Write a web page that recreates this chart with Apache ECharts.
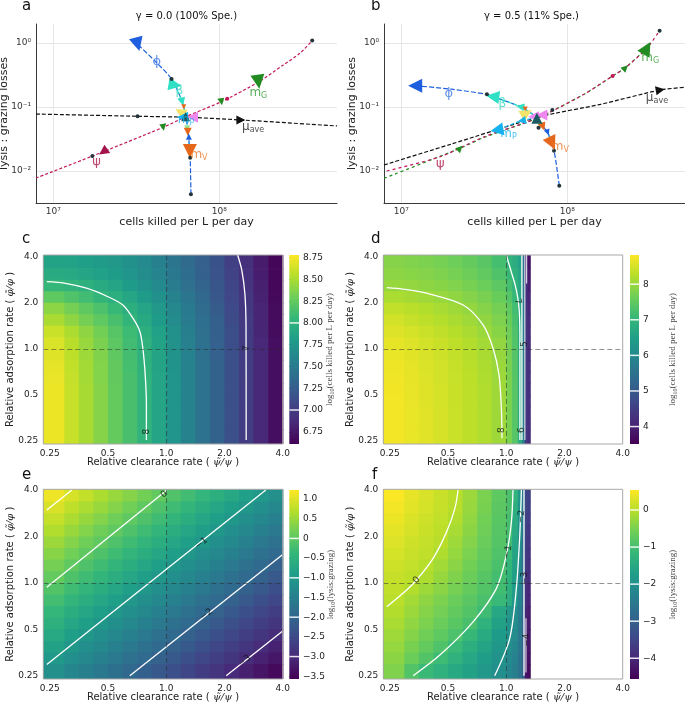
<!DOCTYPE html>
<html>
<head>
<meta charset="utf-8">
<title>lysis vs grazing</title>
<script src="https://cdn.jsdelivr.net/npm/echarts@6.0.0/dist/echarts.min.js"></script>
<style>
html,body{margin:0;padding:0;background:#fff;}
#chart{width:685px;height:704px;}
</style>
</head>
<body>
<div id="chart"></div>
<script>
// ===================== DATA =====================
// ---- Panel a (gamma = 0.0): x = cells killed per L per day, y = lysis:grazing
const psiLineA   = [[7.87e6,0.00776],[1.72e7,0.0171],[4.6e7,0.0482],[6.31e7,0.0708],[1.03e8,0.121],[1.72e8,0.245],[2.43e8,0.453],[3.06e8,0.69],[3.63e8,1.09]];
const muLineA    = [[7.87e6,0.0776],[3.22e7,0.0716],[6.31e7,0.0692],[1.35e8,0.0627],[5.12e8,0.0505]];
const phiLineA   = [[6.75e7,0.00433],[6.68e7,0.0161],[6.53e7,0.0355],[6.31e7,0.0708],[5.98e7,0.121],[5.16e7,0.274],[4.17e7,0.50],[3.22e7,0.955]];
const betaLineA  = [[6.31e7,0.0708],[5.98e7,0.121],[5.41e7,0.221],[5.16e7,0.274]];
const lowerLineA = [[6.31e7,0.0708],[6.46e7,0.0412],[6.65e7,0.0205],[6.68e7,0.0161]];
const phiHeadA   = [[3.22e7,0.955]];
const betaHeadA  = [[5.41e7,0.221]];
const betaTickA  = [[5.98e7,0.121]];
const orangeTopA = [[6.11e7,0.101]];
const yellowA    = [[5.81e7,0.0845]];
const mpHeadA    = [[6.01e7,0.069]];
const tealA      = [[6.27e7,0.0705]];
const violetA    = [[6.9e7,0.069]];
const lgreenA    = [[6.41e7,0.0465]];
const mvTickA    = [[6.46e7,0.0412]];
const phiTickA   = [[6.56e7,0.0344]];
const mvHeadA    = [[6.65e7,0.0205]];
const psiHeadA   = [[2.0e7,0.02]];
const mgTickA    = [[4.6e7,0.0482],[1.03e8,0.121]];
const mgHeadA    = [[1.72e8,0.248]];
const muHeadA    = [[1.35e8,0.0627]];
const psiDotsA   = [[1.117e8,0.1346]];
const darkDotsA  = [[1.72e7,0.0171],[5.16e7,0.274],[6.68e7,0.0161],[6.75e7,0.00433],[3.22e7,0.0716],[3.63e8,1.09]];
const labelsA    = [['psi',1.82e7,0.0141],['mG',1.72e8,0.167],['mu',1.6e8,0.0492],['phi',4.2e7,0.51],['beta',5.75e7,0.18],['mV',7.55e7,0.0178],['mP',6.3e7,0.0626]];

// ---- Panel b (gamma = 0.5)
const psiLineB   = [[7.87e6,0.00977],[1.72e7,0.01675],[3.16e7,0.0343],[6.56e7,0.0665],[1.26e8,0.158],[1.875e8,0.305],[2.24e8,0.411],[3.02e8,0.832],[3.6e8,1.556]];
const mgLineB    = [[7.87e6,0.00767],[2.26e7,0.0226],[3.16e7,0.0335],[6.56e7,0.0665],[1.26e8,0.158],[1.875e8,0.305],[2.24e8,0.411],[3.02e8,0.832]];
const muLineB    = [[7.87e6,0.0124],[2.0e7,0.0263],[6.87e7,0.0706],[1.585e8,0.11],[3.63e8,0.1845],[5.12e8,0.203]];
const phiLineB   = [[8.95e7,0.00589],[8.32e7,0.0208],[7.62e7,0.0402],[7.14e7,0.0493],[6.61e7,0.0676],[5.21e7,0.101],[3.56e7,0.145],[3.28e7,0.158],[2.0e7,0.19],[1.213e7,0.215]];
const betaLineB  = [[6.61e7,0.0676],[5.21e7,0.101],[3.56e7,0.145],[3.28e7,0.158]];
const mpLineB    = [[6.61e7,0.0676],[5.33e7,0.0611],[3.77e7,0.0437]];
const lowerLineB = [[6.61e7,0.0676],[7.14e7,0.0493],[7.62e7,0.0402],[8.32e7,0.0208]];
const phiHeadB   = [[1.213e7,0.215]];
const betaHeadB  = [[3.56e7,0.145]];
const betaTickB  = [[5.21e7,0.101]];
const orangeTopB = [[5.58e7,0.093]];
const yellowB    = [[5.69e7,0.0798]];
const violetB    = [[6.27e7,0.0706],[7.03e7,0.075]];
const tealB      = [[6.56e7,0.0665]];
const lgreenB    = [[6.87e7,0.0523]];
const mpTickB    = [[5.33e7,0.0611]];
const mpHeadB    = [[3.77e7,0.0437]];
const mvTickB    = [[7.14e7,0.0493]];
const phiTickB   = [[7.62e7,0.0402]];
const mvHeadB    = [[8.09e7,0.0271]];
const mgTickB    = [[2.26e7,0.0226],[2.24e8,0.411]];
const mgHeadB    = [[3.02e8,0.832]];
const muHeadB    = [[3.63e8,0.1845]];
const psiDotsB   = [[1.875e8,0.305]];
const darkDotsB  = [[3.28e7,0.158],[6.71e7,0.0475],[8.32e7,0.0208],[8.95e7,0.00589],[8.13e7,0.0897],[3.6e8,1.556]];
const labelsB    = [['phi',1.93e7,0.164],['beta',4.06e7,0.111],['mP',4.43e7,0.0374],['mV',9.08e7,0.024],['mG',3.16e8,0.577],['mu',3.47e8,0.137],['psi',1.72e7,0.0132]];

// ---- Heatmap cell edges (relative clearance rate / relative adsorption rate)
const xEdgesCE = [0.2,0.2973,0.3536,0.4204,0.5,0.5946,0.7071,0.8409,1.0,1.1892,1.4142,1.6818,2.0,2.3784,2.8284,3.3636,4.0];
const xEdgesDF = [0.2,0.2973,0.3536,0.4204,0.5,0.5946,0.7071,0.8409,1.0,1.0718,1.1487,1.2058,1.2483,1.2924,1.3286];
const yEdges   = [4.3,3.3636,2.8284,2.3784,2.0,1.6818,1.4142,1.1892,1.0,0.8409,0.7071,0.5946,0.5,0.4204,0.3536,0.2973,0.2]; // top -> bottom

// ---- Panel c: log10(cells killed per L per day), rows top -> bottom
const valsC = [
 [7.86,7.85,7.83,7.79,7.76,7.70,7.64,7.56,7.46,7.36,7.26,7.16,7.03,6.91,6.78,6.64],
 [7.93,7.91,7.88,7.84,7.80,7.74,7.67,7.59,7.48,7.38,7.27,7.17,7.04,6.92,6.79,6.65],
 [8.05,8.02,7.98,7.93,7.88,7.80,7.72,7.64,7.52,7.41,7.30,7.19,7.06,6.93,6.80,6.65],
 [8.23,8.17,8.11,8.04,7.97,7.89,7.80,7.70,7.58,7.45,7.33,7.21,7.08,6.95,6.81,6.66],
 [8.40,8.32,8.24,8.16,8.07,7.97,7.88,7.76,7.63,7.50,7.37,7.24,7.10,6.97,6.83,6.67],
 [8.50,8.41,8.32,8.23,8.14,8.03,7.92,7.80,7.66,7.52,7.39,7.26,7.11,6.98,6.83,6.68],
 [8.61,8.51,8.41,8.31,8.20,8.09,7.97,7.84,7.70,7.55,7.41,7.27,7.13,6.99,6.84,6.68],
 [8.66,8.55,8.44,8.34,8.22,8.11,7.99,7.86,7.71,7.56,7.42,7.28,7.13,6.99,6.85,6.69],
 [8.68,8.57,8.46,8.36,8.24,8.12,8.00,7.87,7.72,7.57,7.42,7.28,7.14,7.00,6.85,6.69],
 [8.70,8.58,8.48,8.37,8.25,8.13,8.01,7.87,7.72,7.58,7.43,7.29,7.14,7.00,6.85,6.69],
 [8.71,8.59,8.48,8.37,8.25,8.14,8.02,7.88,7.73,7.58,7.43,7.29,7.14,7.00,6.85,6.69],
 [8.72,8.60,8.49,8.38,8.26,8.14,8.02,7.88,7.73,7.58,7.43,7.29,7.14,7.00,6.85,6.69],
 [8.72,8.60,8.49,8.38,8.26,8.14,8.02,7.88,7.73,7.58,7.43,7.29,7.14,7.00,6.85,6.69],
 [8.72,8.60,8.49,8.38,8.26,8.14,8.02,7.88,7.73,7.58,7.43,7.29,7.14,7.00,6.85,6.69],
 [8.72,8.60,8.49,8.38,8.26,8.14,8.02,7.88,7.73,7.58,7.43,7.29,7.14,7.00,6.85,6.69],
 [8.72,8.60,8.49,8.38,8.26,8.14,8.02,7.88,7.73,7.58,7.43,7.29,7.14,7.00,6.85,6.69]
];
// ---- Panel d
const valsD = [
 [7.84,7.80,7.76,7.70,7.63,7.54,7.42,7.22,6.95,6.80,6.55,5.50,4.00,3.75],
 [7.90,7.86,7.82,7.77,7.70,7.62,7.51,7.33,7.08,6.90,6.62,5.55,4.10,3.85],
 [7.98,7.95,7.91,7.86,7.80,7.72,7.61,7.45,7.22,6.98,6.68,5.60,4.20,3.95],
 [8.15,8.10,8.05,7.99,7.92,7.84,7.73,7.58,7.38,7.08,6.72,5.65,4.25,4.05],
 [8.33,8.27,8.20,8.12,8.04,7.95,7.84,7.69,7.50,7.20,6.75,5.70,4.30,4.10],
 [8.46,8.38,8.30,8.22,8.13,8.04,7.93,7.78,7.58,7.28,6.78,5.75,4.32,4.15],
 [8.56,8.48,8.40,8.32,8.23,8.13,8.01,7.86,7.64,7.33,6.79,5.78,4.34,4.17],
 [8.62,8.55,8.47,8.39,8.30,8.21,8.09,7.94,7.68,7.36,6.80,5.79,4.35,4.18],
 [8.66,8.59,8.51,8.43,8.34,8.25,8.13,7.98,7.71,7.38,6.80,5.80,4.35,4.19],
 [8.69,8.62,8.54,8.46,8.37,8.27,8.16,8.01,7.73,7.39,6.80,5.80,4.35,4.20],
 [8.71,8.64,8.56,8.47,8.38,8.29,8.18,8.03,7.74,7.40,6.80,5.80,4.35,4.20],
 [8.72,8.65,8.57,8.48,8.39,8.30,8.19,8.04,7.75,7.40,6.80,5.80,4.35,4.20],
 [8.73,8.65,8.57,8.48,8.39,8.30,8.19,8.04,7.75,7.40,6.80,5.80,4.35,4.20],
 [8.73,8.66,8.58,8.49,8.40,8.30,8.19,8.04,7.75,7.40,6.80,5.80,4.35,4.20],
 [8.74,8.66,8.58,8.49,8.40,8.30,8.19,8.04,7.75,7.40,6.80,5.80,4.35,4.20],
 [8.74,8.66,8.58,8.49,8.40,8.30,8.19,8.04,7.75,7.40,6.80,5.80,4.35,4.20]
];
// ---- Panel e: log10(lysis:grazing)
const valsE = [
 [1.12,0.94,0.79,0.64,0.49,0.34,0.19,0.04,-0.11,-0.26,-0.42,-0.57,-0.72,-0.87,-1.02,-1.17],
 [0.96,0.78,0.63,0.48,0.33,0.18,0.02,-0.13,-0.28,-0.43,-0.58,-0.73,-0.88,-1.03,-1.18,-1.33],
 [0.81,0.63,0.47,0.32,0.17,0.02,-0.13,-0.28,-0.43,-0.58,-0.73,-0.88,-1.03,-1.18,-1.33,-1.48],
 [0.66,0.48,0.32,0.17,0.02,-0.13,-0.28,-0.43,-0.58,-0.73,-0.88,-1.03,-1.18,-1.33,-1.48,-1.63],
 [0.51,0.33,0.17,0.02,-0.13,-0.28,-0.43,-0.58,-0.73,-0.88,-1.03,-1.18,-1.33,-1.48,-1.63,-1.78],
 [0.36,0.18,0.02,-0.13,-0.28,-0.43,-0.58,-0.73,-0.88,-1.03,-1.18,-1.33,-1.48,-1.63,-1.78,-1.93],
 [0.21,0.02,-0.13,-0.28,-0.43,-0.58,-0.73,-0.88,-1.03,-1.18,-1.33,-1.48,-1.63,-1.78,-1.93,-2.08],
 [0.06,-0.13,-0.28,-0.43,-0.58,-0.73,-0.88,-1.03,-1.18,-1.33,-1.48,-1.63,-1.78,-1.93,-2.08,-2.23],
 [-0.09,-0.28,-0.43,-0.58,-0.73,-0.88,-1.03,-1.18,-1.33,-1.48,-1.63,-1.78,-1.93,-2.08,-2.23,-2.38],
 [-0.24,-0.43,-0.58,-0.73,-0.88,-1.03,-1.18,-1.33,-1.48,-1.63,-1.78,-1.93,-2.08,-2.23,-2.38,-2.53],
 [-0.39,-0.58,-0.73,-0.88,-1.03,-1.18,-1.33,-1.48,-1.63,-1.78,-1.93,-2.08,-2.23,-2.38,-2.53,-2.68],
 [-0.54,-0.73,-0.88,-1.03,-1.18,-1.33,-1.48,-1.63,-1.78,-1.93,-2.08,-2.23,-2.38,-2.53,-2.68,-2.83],
 [-0.69,-0.88,-1.03,-1.18,-1.33,-1.48,-1.63,-1.78,-1.93,-2.08,-2.23,-2.38,-2.53,-2.68,-2.83,-2.98],
 [-0.84,-1.03,-1.18,-1.33,-1.48,-1.63,-1.78,-1.93,-2.08,-2.23,-2.38,-2.53,-2.68,-2.83,-2.98,-3.13],
 [-1.00,-1.18,-1.33,-1.48,-1.63,-1.78,-1.93,-2.08,-2.23,-2.38,-2.53,-2.68,-2.83,-2.98,-3.13,-3.28],
 [-1.17,-1.35,-1.50,-1.65,-1.80,-1.95,-2.10,-2.25,-2.40,-2.55,-2.70,-2.85,-3.00,-3.15,-3.30,-3.45]
];
// ---- Panel f
const valsF = [
 [0.52,0.37,0.25,0.13,0.01,-0.23,-0.49,-0.75,-0.93,-1.25,-1.83,-2.60,-3.45,-3.55],
 [0.46,0.33,0.22,0.11,0.00,-0.26,-0.51,-0.77,-0.95,-1.33,-1.90,-2.60,-3.50,-3.60],
 [0.40,0.27,0.17,0.07,-0.07,-0.31,-0.56,-0.80,-0.97,-1.40,-1.95,-2.65,-3.55,-3.65],
 [0.34,0.23,0.13,0.04,-0.13,-0.36,-0.59,-0.82,-0.98,-1.45,-2.00,-2.65,-3.60,-3.70],
 [0.28,0.17,0.09,0.00,-0.21,-0.42,-0.64,-0.85,-1.05,-1.55,-2.05,-2.70,-3.65,-3.75],
 [0.22,0.13,0.05,-0.08,-0.28,-0.49,-0.69,-0.90,-1.12,-1.60,-2.10,-2.70,-3.70,-3.80],
 [0.16,0.08,-0.01,-0.18,-0.37,-0.56,-0.75,-0.95,-1.20,-1.65,-2.15,-2.75,-3.75,-3.85],
 [0.11,0.03,-0.08,-0.27,-0.45,-0.63,-0.82,-1.00,-1.28,-1.70,-2.20,-2.75,-3.80,-3.90],
 [0.06,-0.05,-0.21,-0.37,-0.53,-0.69,-0.86,-1.03,-1.35,-1.75,-2.25,-2.80,-3.90,-4.00],
 [0.01,-0.17,-0.33,-0.48,-0.64,-0.79,-0.95,-1.12,-1.40,-1.80,-2.30,-2.80,-3.95,-4.05],
 [-0.05,-0.24,-0.40,-0.55,-0.71,-0.86,-1.05,-1.52,-1.85,-2.05,-2.40,-2.85,-4.05,-4.15],
 [-0.12,-0.32,-0.48,-0.64,-0.80,-0.96,-1.28,-1.65,-1.92,-2.06,-2.45,-2.90,-4.10,-4.20],
 [-0.20,-0.41,-0.58,-0.75,-0.92,-1.15,-1.46,-1.76,-1.98,-2.10,-2.50,-2.90,-4.15,-4.25],
 [-0.28,-0.51,-0.70,-0.89,-1.10,-1.36,-1.60,-1.86,-2.05,-2.20,-2.55,-2.95,-4.20,-4.30],
 [-0.36,-0.63,-0.86,-1.08,-1.30,-1.52,-1.74,-1.95,-2.15,-2.30,-2.60,-3.00,-4.25,-4.35],
 [-0.45,-0.86,-1.11,-1.29,-1.48,-1.66,-1.85,-2.03,-2.20,-2.35,-2.65,-3.00,-4.30,-4.40]
];

// ---- Contour lines (x = relative clearance, y = relative adsorption)
const contourC8 = [[0.2415,2.75],[0.297,2.69],[0.387,2.49],[0.5,2.19],[0.599,1.93],[0.683,1.54],[0.732,1.29],[0.758,1.0],[0.779,0.674],[0.790,0.435],[0.790,0.254]];
const contourC7 = [[2.34,4.1],[2.46,3.25],[2.55,2.30],[2.585,1.41],[2.59,0.254]];
const contourD8 = [[0.2415,2.51],[0.297,2.45],[0.388,2.31],[0.599,1.935],[0.759,1.434],[0.855,1.009],[0.918,0.676],[0.944,0.409],[0.951,0.261]];
const contourD7 = [[1.002,4.1],[1.057,3.25],[1.11,2.64],[1.149,2.14],[1.169,1.74],[1.177,1.23],[1.177,0.254]];
const contourD6 = [[1.2058,4.1],[1.2058,0.254]];
const contourD5 = [[1.2483,4.1],[1.2483,0.254]];
const contourD4 = [[1.2746,4.1],[1.2746,2.676]];
const contourE1  = [[0.2415,2.969],[0.3253,4.0]];
const contourE0  = [[0.2415,0.935],[1.0083,4.0]];
const contourEm1 = [[0.2415,0.2957],[3.272,4.0]];
const contourEm2 = [[0.6484,0.25],[3.972,1.516]];
const contourEm3 = [[2.042,0.25],[3.972,0.483]];
const contourF0  = [[0.2415,0.70],[0.306,0.898],[0.344,1.043],[0.419,1.442],[0.492,2.14],[0.543,3.04],[0.564,4.0]];
const contourFm1 = [[0.3305,0.25],[0.454,0.340],[0.674,0.559],[0.890,0.921],[1.002,1.516],[1.064,2.49],[1.084,4.0]];
const contourFm2 = [[0.872,0.25],[1.043,0.437],[1.128,0.920],[1.173,1.945],[1.198,4.0]];
const contourFm3 = [[1.2356,0.25],[1.2356,4.0]];
const contourFm4 = [[1.265,0.2624],[1.265,0.5905]];
const labelsC = [['8',0.79,0.288],['7',2.59,1.01]];
const labelsD = [['8',0.951,0.295],['7',1.149,2.035],['6',1.206,0.295],['5',1.248,1.072]];
const labelsE = [['0',0.974,3.75],['−1',1.518,1.804],['−2',1.611,0.6245],['−3',2.539,0.311]];
const labelsF = [['0',0.344,1.043],['−1',1.021,1.591],['−2',1.197,2.685],['−3',1.245,1.07],['−4',1.27,0.425]];

// ---- Colorbars: ranges, ticks, contour levels
const cbRangeC = [6.61,8.78], cbTicksC = [6.75,7.0,7.25,7.5,7.75,8.0,8.25,8.5,8.75], levelsC = [7,8];
const cbRangeD = [3.51,8.82], cbTicksD = [4,5,6,7,8], levelsD = [4,5,6,7,8];
const cbRangeE = [-3.57,1.23], cbTicksE = [-3.5,-3,-2.5,-2,-1.5,-1,-0.5,0,0.5,1.0], levelsE = [-3,-2,-1,0];
const cbRangeF = [-4.56,0.54], cbTicksF = [-4,-3,-2,-1,0], levelsF = [-4,-3,-2,-1,0];

// ===================== STYLE / BUILD =====================
const FONT = 'DejaVu Sans';
const viridis = ['#440154','#482878','#3e4989','#31688e','#26828e','#1f9e89','#35b779','#6ece58','#b5de2b','#fde725'];
const COL = {psi:'#c2185b', psiHead:'#a3134c', mg:'#228b22', mu:'#111111', phi:'#1f5fdf', beta:'#2fe0c4', mv:'#e5671b',
  mp:'#15b2ee', yellow:'#f2e46b', violet:'#ee88ee', teal:'#1b5c62', lgreen:'#8fe88f', dot:'#22343a', lower:'#2fa7e6'};

const SUP = {'0':'⁰','1':'¹','2':'²','3':'³','4':'⁴','5':'⁵','6':'⁶','7':'⁷','8':'⁸','9':'⁹','-':'⁻'};
function powLabel(v){ const l=Math.log10(v), r=Math.round(l); if(Math.abs(l-r)>1e-3) return ''; return '10'+String(r).split('').map(c=>SUP[c]).join(''); }
function ratioLabel(v){ const l=Math.log2(v), r=Math.round(l); if(Math.abs(l-r)>1e-3) return ''; return r===-2 ? '0.25' : Math.pow(2,r).toFixed(1); }

const series = [];
function add(s){ series.push(s); return series.length-1; }

function curve(g, data, color, dash, extra){
  return Object.assign({type:'line', xAxisIndex:g, yAxisIndex:g, data:data, symbol:'none', smooth:0.25, silent:true, z:3,
    lineStyle:{color:color, width:1.2, type:dash||[4,2]}}, extra||{});
}
function marks(g, data, color, size, rot, sym, z){
  return {type:'scatter', xAxisIndex:g, yAxisIndex:g, data:data, symbol:sym||'triangle', symbolSize:size,
    symbolRotate:rot||0, silent:true, z:z||5, itemStyle:{color:color, opacity:1}};
}
const LABEL_TEXT = {psi:'{psi|ψ}', phi:'{phi|ϕ}', beta:'{beta|β}', mG:'{gm|m}{gs|G}', mV:'{vm|m}{vs|V}', mP:'{pm|m}{ps|P}', mu:'{km|μ}{ks|ave}'};
function subPair(color){ return [{fontSize:12, lineHeight:14, color:color, fontFamily:FONT}, {fontSize:8, lineHeight:14, verticalAlign:'bottom', color:color, fontFamily:FONT}]; }
const RICH = (function(){
  const r = {psi:{fontSize:13, color:'#b0184f', fontFamily:FONT}, phi:{fontSize:13, color:'#3a75e6', fontFamily:FONT}, beta:{fontSize:12, color:'#35d8c0', fontFamily:FONT}};
  [['g','#2e9a2e'],['v','#e8782a'],['p','#1bb0ee'],['k','#222222']].forEach(([k,c])=>{ const p=subPair(c); r[k+'m']=p[0]; r[k+'s']=p[1]; });
  return r;
})();
function textLabels(g, arr){
  return {type:'scatter', xAxisIndex:g, yAxisIndex:g, symbolSize:1, itemStyle:{color:'rgba(0,0,0,0)'}, silent:true, z:8,
    data:arr.map(d=>({name:d[0], value:[d[1], d[2]]})),
    label:{show:true, position:'inside', formatter:p=>LABEL_TEXT[p.name], rich:RICH}};
}

// ---------- panel a ----------
add(curve(0, muLineA, COL.mu, [4,2]));
add(curve(0, psiLineA, COL.psi, [3,2]));
add(curve(0, phiLineA, COL.phi, [5,2]));
add(curve(0, betaLineA, COL.beta, [4,2], {z:4}));
add(curve(0, lowerLineA, COL.lower, [3,2], {z:4}));
add(marks(0, phiHeadA, COL.phi, 14, 195));
add(marks(0, betaHeadA, COL.beta, 13, -100));
add(marks(0, betaTickA, COL.beta, 8, 195));
add(marks(0, orangeTopA, COL.mv, 5, 180));
add(marks(0, yellowA, COL.yellow, 11, 60));
add(marks(0, mpHeadA, COL.mp, 11, 90, null, 6));
add(marks(0, tealA, COL.teal, 9, 0, null, 6));
add(marks(0, violetA, COL.violet, 11, 90));
add(marks(0, lgreenA, COL.lgreen, 6, 180));
add(marks(0, mvTickA, COL.mv, 8, 180));
add(marks(0, phiTickA, COL.phi, 6, 0));
add(marks(0, mvHeadA, COL.mv, 14, 180));
add(marks(0, psiHeadA, COL.psiHead, 10, 125));
add(marks(0, mgTickA, COL.mg, 7, 190));
add(marks(0, mgHeadA, COL.mg, 14, 188));
add(marks(0, muHeadA, COL.mu, 9, -90));
add(marks(0, psiDotsA, COL.psi, 4, 0, 'circle', 7));
add(marks(0, darkDotsA, COL.dot, 4, 0, 'circle', 7));
add(textLabels(0, labelsA));

// ---------- panel b ----------
add(curve(1, muLineB, COL.mu, [4,2]));
add(curve(1, mgLineB, COL.mg, [3,3]));
add(curve(1, psiLineB, COL.psi, [3,3], {lineStyle:{color:COL.psi, width:1.2, type:[3,3], dashOffset:3}}));
add(curve(1, phiLineB, COL.phi, [5,2]));
add(curve(1, betaLineB, COL.beta, [4,2], {z:4}));
add(curve(1, mpLineB, COL.mp, [4,2], {z:4}));
add(curve(1, lowerLineB, COL.lower, [3,2], {z:4}));
add(marks(1, phiHeadB, COL.phi, 14, 90));
add(marks(1, betaHeadB, COL.beta, 13, 82));
add(marks(1, betaTickB, COL.beta, 8, 80));
add(marks(1, orangeTopB, COL.mv, 5, 180));
add(marks(1, yellowB, COL.yellow, 12, -60));
add(marks(1, violetB, COL.violet, 11, 90));
add(marks(1, tealB, COL.teal, 11, 0, null, 6));
add(marks(1, lgreenB, COL.lgreen, 6, 180));
add(marks(1, mpTickB, COL.mp, 8, 100));
add(marks(1, mpHeadB, COL.mp, 13, 100));
add(marks(1, mvTickB, COL.mv, 8, 200));
add(marks(1, phiTickB, COL.phi, 6, 200));
add(marks(1, mvHeadB, COL.mv, 14, 205));
add(marks(1, mgTickB, COL.mg, 7, -45));
add(marks(1, mgHeadB, COL.mg, 14, -30));
add(marks(1, muHeadB, COL.mu, 9, -80));
add(marks(1, psiDotsB, COL.psi, 4, 0, 'circle', 7));
add(marks(1, darkDotsB, COL.dot, 4, 0, 'circle', 7));
add(textLabels(1, labelsB));

// ---------- heatmaps ----------
function heatSeries(g, xE, yE, vals){
  const data = [];
  for (let r=0; r<vals.length; r++) for (let c=0; c<vals[r].length; c++) data.push([xE[c], xE[c+1], yE[r+1], yE[r], vals[r][c]]);
  return {type:'custom', xAxisIndex:g, yAxisIndex:g, data:data, encode:{x:[0,1], y:[2,3]}, clip:true, silent:true, z:1,
    renderItem:function(p, api){
      const a = api.coord([api.value(0), api.value(2)]);
      const b = api.coord([api.value(1), api.value(3)]);
      return {type:'rect', shape:{x:a[0], y:b[1], width:b[0]-a[0]+0.7, height:a[1]-b[1]+0.7}, style:{fill:api.visual('color')}};
    }};
}
function contour(g, data, smooth, extra){
  return Object.assign({type:'line', xAxisIndex:g, yAxisIndex:g, data:data, symbol:'none', smooth:smooth, silent:true, z:3,
    lineStyle:{color:'#ffffff', width:1.3}}, extra||{});
}
function refLines(){
  return {markLine:{silent:true, symbol:'none', animation:false, label:{show:false},
    lineStyle:{color:'rgba(40,40,40,0.5)', type:[5,3], width:1.1}, data:[{xAxis:1},{yAxis:1}]}};
}
function contourLabels(g, arr, rots){
  return {type:'scatter', xAxisIndex:g, yAxisIndex:g, symbolSize:1, itemStyle:{color:'rgba(0,0,0,0)'}, silent:true, z:6,
    data:arr.map((d,i)=>({value:[d[1], d[2]], label:{show:true, position:'inside', formatter:d[0], rotate:rots[i], fontSize:9, color:'#111', fontFamily:FONT}}))};
}
const idxC = add(heatSeries(2, xEdgesCE, yEdges, valsC));
add(contour(2, contourC8, 0.3, refLines()));
add(contour(2, contourC7, 0.3));
add(contourLabels(2, labelsC, [90,90]));

const idxD = add(heatSeries(3, xEdgesDF, yEdges, valsD));
add(contour(3, contourD8, 0.3, refLines()));
add(contour(3, contourD7, 0.3));
add(contour(3, contourD6, 0));
add(contour(3, contourD5, 0, {lineStyle:{color:'rgba(235,235,240,0.9)', width:1.2}}));
add(contour(3, contourD4, 0, {lineStyle:{color:'rgba(225,225,235,0.9)', width:1.2}}));
add(contourLabels(3, labelsD, [90,-74,90,90]));

const idxE = add(heatSeries(4, xEdgesCE, yEdges, valsE));
add(contour(4, contourE0, 0, refLines()));
add(contour(4, contourE1, 0));
add(contour(4, contourEm1, 0));
add(contour(4, contourEm2, 0));
add(contour(4, contourEm3, 0));
add(contourLabels(4, labelsE, [38,38,38,38]));

const idxF = add(heatSeries(5, xEdgesDF, yEdges, valsF));
add(contour(5, contourF0, 0.3, refLines()));
add(contour(5, contourFm1, 0.3));
add(contour(5, contourFm2, 0.3));
add(contour(5, contourFm3, 0));
add(contour(5, contourFm4, 0, {lineStyle:{color:'rgba(225,225,235,0.9)', width:1.2}}));
add(contourLabels(5, labelsF, [50,80,85,90,90]));

// ---------- colorbars ----------
const stops = viridis.map((c,i)=>({offset:i/(viridis.length-1), color:c}));
function colorbar(g, range, levels){
  add({type:'custom', xAxisIndex:g, yAxisIndex:g, data:[[0, range[0], 1, range[1]]], encode:{x:[0,2], y:[1,3]}, silent:true, z:1,
    renderItem:function(p, api){
      const a = api.coord([api.value(0), api.value(1)]), b = api.coord([api.value(2), api.value(3)]);
      return {type:'rect', shape:{x:a[0], y:b[1], width:b[0]-a[0], height:a[1]-b[1]},
        style:{fill:new echarts.graphic.LinearGradient(0,1,0,0,stops)}};
    }});
  add({type:'custom', xAxisIndex:g, yAxisIndex:g, data:levels.map(l=>[0,l,1]), encode:{x:[0,2], y:1}, silent:true, z:2,
    renderItem:function(p, api){
      const a = api.coord([api.value(0), api.value(1)]), b = api.coord([api.value(2), api.value(1)]);
      return {type:'line', shape:{x1:a[0], y1:a[1], x2:b[0], y2:b[1]}, style:{stroke:'rgba(255,255,255,0.88)', lineWidth:1.5}};
    }});
}
colorbar(6, cbRangeC, levelsC);
colorbar(7, cbRangeD, levelsD);
colorbar(8, cbRangeE, levelsE);
colorbar(9, cbRangeF, levelsF);

// ---------- layout ----------
const GRID = [
  {left:36, top:24, width:301, height:179},
  {left:384, top:24, width:301, height:179},
  {left:43.3, top:255, width:239.4, height:189},
  {left:383.3, top:255, width:239.4, height:189},
  {left:43.3, top:489.3, width:239.4, height:189.7},
  {left:383.3, top:489.3, width:239.4, height:189.7},
  {left:289.3, top:255, width:9.7, height:189},
  {left:630, top:255, width:9, height:189},
  {left:289.3, top:490, width:9.7, height:189},
  {left:630, top:490, width:9, height:189}
];
const grids = GRID.map((g,i)=>Object.assign({containLabel:false, outerBoundsMode:'none'}, g,
  (i>=2 && i<=5) ? {show:true, borderColor:'#a8a8a8', borderWidth:1, backgroundColor:'rgba(0,0,0,0)', z:10} : {show:false}));

function logX(g){
  return {type:'log', logBase:10, gridIndex:g, min:7.87e6, max:5.12e8,
    name:'cells killed per L per day', nameLocation:'middle', nameGap:14, nameMoveOverlap:false,
    nameTextStyle:{fontSize:11, color:'#222', fontFamily:FONT},
    axisLine:{show:true, onZero:false, lineStyle:{color:'#3a3a3a', width:1}},
    axisTick:{show:false}, minorTick:{show:false}, minorSplitLine:{show:false},
    axisLabel:{formatter:powLabel, fontSize:9, color:'#333', margin:4, fontFamily:FONT},
    splitLine:{show:true, showMinLine:false, showMaxLine:false, lineStyle:{color:'#e6e6e6', width:1}}};
}
function logY(g){
  return {type:'log', logBase:10, gridIndex:g, min:0.00316, max:1.98,
    name:'lysis : grazing losses', nameLocation:'middle', nameGap:26, nameMoveOverlap:false,
    nameTextStyle:{fontSize:11, color:'#222', fontFamily:FONT},
    axisLine:{show:true, onZero:false, lineStyle:{color:'#3a3a3a', width:1}},
    axisTick:{show:false}, minorTick:{show:false}, minorSplitLine:{show:false},
    axisLabel:{formatter:powLabel, fontSize:9, color:'#333', margin:5, fontFamily:FONT},
    splitLine:{show:true, showMinLine:false, showMaxLine:false, lineStyle:{color:'#e6e6e6', width:1}}};
}
const MATH = {i:{fontFamily:'DejaVu Serif', fontStyle:'italic', fontSize:10, color:'#222'}};
function ratioX(g){
  return {type:'log', logBase:2, gridIndex:g, min:0.2316, max:4,
    name:'Relative clearance rate ( {i|ψ̃/ψ} )', nameLocation:'middle', nameGap:13, nameMoveOverlap:false,
    nameTextStyle:{fontSize:10, color:'#222', fontFamily:FONT, rich:MATH},
    axisLine:{show:false}, axisTick:{show:false}, splitLine:{show:false}, minorTick:{show:false},
    axisLabel:{formatter:ratioLabel, fontSize:9, color:'#222', margin:5, fontFamily:FONT}};
}
function ratioY(g, lo, hi){
  return {type:'log', logBase:2, gridIndex:g, min:lo, max:hi,
    name:'Relative adsorption rate ( {i|φ̃/φ} )', nameLocation:'middle', nameGap:28, nameMoveOverlap:false,
    nameTextStyle:{fontSize:10, color:'#222', fontFamily:FONT, rich:MATH},
    axisLine:{show:false}, axisTick:{show:false}, splitLine:{show:false}, minorTick:{show:false},
    axisLabel:{formatter:ratioLabel, fontSize:9, color:'#222', margin:5, fontFamily:FONT}};
}
const SERIF_RICH = {s:{fontFamily:'Liberation Serif', fontSize:6, color:'#444', verticalAlign:'bottom', lineHeight:10}};
function cbY(g, range, ticks, fmt, name, gap){
  return {type:'value', gridIndex:g, min:range[0], max:range[1], position:'right',
    name:name, nameLocation:'middle', nameRotate:90, nameGap:gap, nameMoveOverlap:false,
    nameTextStyle:{fontFamily:'Liberation Serif', fontSize:9, color:'#444', lineHeight:10, rich:SERIF_RICH},
    axisLine:{show:false}, splitLine:{show:false},
    axisTick:{show:true, length:3, lineStyle:{color:'#333', width:0.8}, customValues:ticks},
    axisLabel:{customValues:ticks, formatter:fmt, fontSize:9, color:'#222', margin:4, fontFamily:FONT}};
}
function cbX(g){ return {type:'value', gridIndex:g, min:0, max:1, show:false}; }
const minus = s => s.replace('-', '−');
const fmtC = v => v.toFixed(2);
const fmtD = v => String(Math.round(v));
const fmtE = v => Math.abs(v) < 1e-9 ? '0' : minus(v.toFixed(1));
const fmtF = v => Math.abs(v) < 1e-9 ? '0' : minus(String(Math.round(v)));
const nameKill = 'log{s|10}(cells killed per L per day)';
const nameLG = 'log{s|10}(lysis:grazing)';

const xAxes = [logX(0), logX(1), ratioX(2), ratioX(3), ratioX(4), ratioX(5), cbX(6), cbX(7), cbX(8), cbX(9)];
const yAxes = [logY(0), logY(1), ratioY(2,0.2391,4.104), ratioY(3,0.2391,4.104), ratioY(4,0.238,4.04), ratioY(5,0.238,4.04),
  cbY(6, cbRangeC, cbTicksC, fmtC, nameKill, 26), cbY(7, cbRangeD, cbTicksD, fmtD, nameKill, 29),
  cbY(8, cbRangeE, cbTicksE, fmtE, nameLG, 27), cbY(9, cbRangeF, cbTicksF, fmtF, nameLG, 29)];

function vm(idx, range){ return {type:'continuous', show:false, min:range[0], max:range[1], dimension:4, seriesIndex:idx, inRange:{color:viridis}}; }

function txt(x, y, text, size, align){
  return {type:'text', x:x, y:y, silent:true, style:{text:text, fontSize:size, fontFamily:FONT, fill:'#111',
    align:align||'left', verticalAlign:'middle', textAlign:align||'left', textVerticalAlign:'middle'}};
}

const option = {
  animation:false,
  backgroundColor:'#ffffff',
  textStyle:{fontFamily:FONT},
  grid:grids,
  xAxis:xAxes,
  yAxis:yAxes,
  visualMap:[vm(idxC, cbRangeC), vm(idxD, cbRangeD), vm(idxE, cbRangeE), vm(idxF, cbRangeF)],
  graphic:[
    txt(22, 6.5, 'a', 15), txt(371, 6.5, 'b', 15),
    txt(22, 239, 'c', 15), txt(371, 239, 'd', 15),
    txt(22, 474.8, 'e', 15), txt(372, 474.8, 'f', 15),
    txt(186.5, 16, 'γ = 0.0 (100% Spe.)', 10, 'center'),
    txt(531.5, 16, 'γ = 0.5 (11% Spe.)', 10, 'center')
  ],
  series:series
};
const chart = echarts.init(document.getElementById('chart'), null, {renderer:'canvas'});
chart.setOption(option);
</script>
</body>
</html>
